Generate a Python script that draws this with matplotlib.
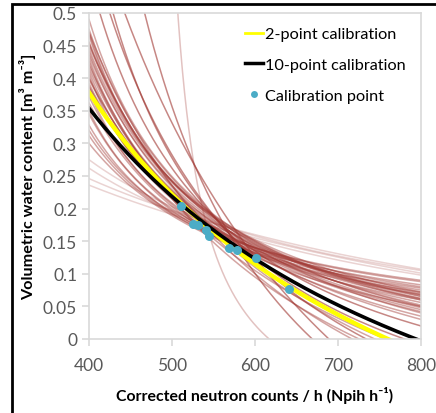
import numpy as np
import matplotlib.pyplot as plt
from matplotlib.patches import Rectangle
from matplotlib.lines import Line2D

plt.rcParams['font.family'] = ['Lato', 'DejaVu Sans']

# Each curve is given by three (N, theta) points
# main bundle of single-day calibrations (N = 400, 600, 800)
main_theta = [
    (0.490, 0.150, 0.062), (0.475, 0.145, 0.050), (0.465, 0.152, 0.072),
    (0.455, 0.140, 0.040), (0.445, 0.147, 0.060), (0.435, 0.142, 0.052),
    (0.425, 0.143, 0.068), (0.415, 0.135, 0.045), (0.405, 0.140, 0.075),
    (0.398, 0.130, 0.030), (0.392, 0.136, 0.056), (0.386, 0.132, 0.042),
    (0.380, 0.140, 0.080), (0.372, 0.131, 0.060), (0.362, 0.126, 0.050),
    (0.345, 0.132, 0.072), (0.328, 0.133, 0.078), (0.312, 0.136, 0.083),
    (0.300, 0.130, 0.068),
    (0.470, 0.148, 0.065), (0.440, 0.138, 0.048), (0.410, 0.138, 0.062),
    (0.388, 0.128, 0.035), (0.430, 0.145, 0.070), (0.455, 0.150, 0.066),
    (0.350, 0.140, 0.088), (0.320, 0.140, 0.090),
    (0.450, 0.110, -0.030), (0.470, 0.100, -0.050), (0.420, 0.095, -0.040),
    (0.400, 0.105, -0.020),
]
# flat, faint curves (N = 400, 600, 800)
flat_theta = [
    (0.275, 0.158, 0.105), (0.262, 0.152, 0.098),
    (0.246, 0.160, 0.107), (0.236, 0.155, 0.101),
]
# steep curves, own anchor points
steep_n = [(507, 549, 617), (467, 533, 669), (443, 530, 689),
           (425, 590, 734), (413, 600, 800), (429, 600, 780)]
steep_theta = [(0.50, 0.143, 0.0), (0.50, 0.25, 0.0), (0.50, 0.26, 0.0),
               (0.50, 0.133, 0.0), (0.50, 0.135, 0.02), (0.50, 0.125, 0.0)]

two_point = ((400, 600, 760), (0.378, 0.115, 0.0))
ten_point = ((400, 600, 794), (0.354, 0.123, 0.0))

cal_n = [511, 525, 531, 541, 545, 569, 578, 601, 641]
cal_theta = [0.204, 0.176, 0.175, 0.167, 0.158, 0.140, 0.137, 0.124, 0.076]


def hyperbola(xs, ys, n):
    # theta = a / (N - b) - c through three points
    x1, x2, x3 = xs
    y1, y2, y3 = ys
    k = (y1 - y2) * (x3 - x2) / ((y2 - y3) * (x2 - x1))
    b = (x3 - k * x1) / (1 - k)
    a = (y1 - y2) * (x1 - b) * (x2 - b) / (x2 - x1)
    c = a / (x1 - b) - y1
    with np.errstate(divide='ignore', invalid='ignore'):
        t = a / (n - b) - c
    t[n <= b] = np.nan
    return t


n = np.linspace(400, 800, 800)
red = (0.63, 0.22, 0.2)

fig = plt.figure(figsize=(4.36, 4.14), dpi=100)
ax = fig.add_axes([89 / 436, 74 / 414, 332 / 436, 326 / 414])

for ys in main_theta:
    ax.plot(n, hyperbola((400, 600, 800), ys, n), color=red, lw=1.1, alpha=0.45)
for ys in flat_theta:
    ax.plot(n, hyperbola((400, 600, 800), ys, n), color=red, lw=1.1, alpha=0.22)
for i, (xs, ys) in enumerate(zip(steep_n, steep_theta)):
    ax.plot(n, hyperbola(xs, ys, n), color=red, lw=1.1, alpha=0.3 if i == 0 else 0.6)

ax.plot(n, hyperbola(*two_point, n), color='#ffff00', lw=3.2)
ax.plot(n, hyperbola(*ten_point, n), color='black', lw=2.6)
ax.plot(cal_n, cal_theta, 'o', color='#4bacc6', ms=6.5, mec='none')

ax.set_xlim(400, 800)
ax.set_ylim(0, 0.5)
ax.set_xticks([400, 500, 600, 700, 800])
ax.set_yticks(np.arange(0, 0.51, 0.05))
ax.set_yticklabels(['0', '0.05', '0.1', '0.15', '0.2', '0.25', '0.3', '0.35',
                    '0.4', '0.45', '0.5'])
for s in ax.spines.values():
    s.set_color('#d9d9d9')
    s.set_linewidth(1.2)
ax.tick_params(colors='#d9d9d9', labelcolor='#595959', labelsize=12.5,
               length=5, width=1.2)
ax.tick_params(axis='x', pad=8)

ax.set_xlabel('Corrected neutron counts / h (Npih h⁻¹)', fontsize=11.4,
              fontweight='bold', labelpad=9)
ax.set_ylabel('Volumetric water content [m³ m⁻³]', fontsize=11.6,
              fontweight='bold', labelpad=5)

handles = [Line2D([], [], color='#ffff00', lw=2),
           Line2D([], [], color='black', lw=2.5),
           Line2D([], [], marker='o', ls='none', color='#4bacc6', ms=5, mec='none')]
ax.legend(handles, ['2-point calibration', '10-point calibration', 'Calibration point'],
          loc='upper left', bbox_to_anchor=(0.47, 0.957), frameon=False,
          fontsize=11.7, handlelength=1.1, handletextpad=0.15, labelspacing=1.0,
          borderpad=0, borderaxespad=0)

fig.patches.append(Rectangle((12 / 436, -0.05), 1.2, 1 - 5 / 414 + 0.05,
                             transform=fig.transFigure, fill=False,
                             edgecolor='black', lw=2))

fig.savefig('out.png', dpi=100)
